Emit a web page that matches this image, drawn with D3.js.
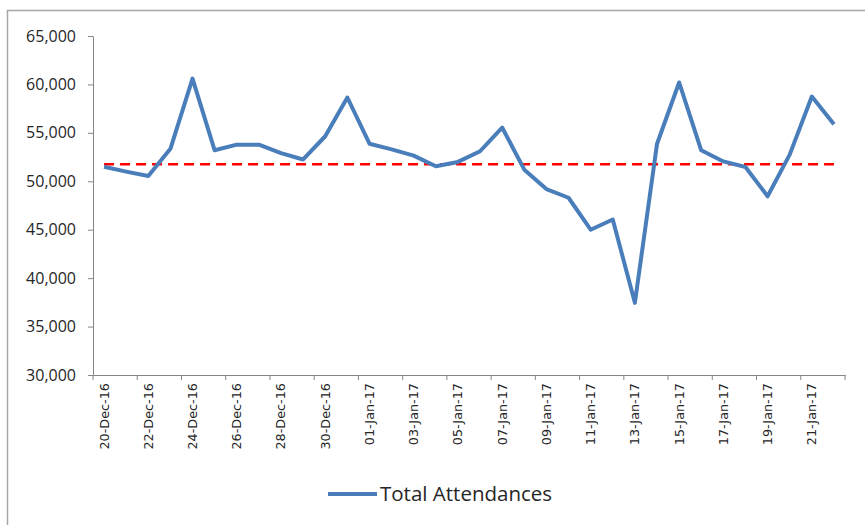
<!DOCTYPE html>
<html lang="en">
<head>
    <meta charset="UTF-8">
    <title>Total Attendances</title>
    <script src="https://d3js.org/d3.v7.min.js"></script>
    <style>
        body { margin: 0; background: #fff; }
        .axis path, .axis line { stroke: #868686; }
        .ylab text { font-family: "Open Sans", sans-serif; font-size: 16px; fill: #262626; }
        .xlab text { font-family: "DejaVu Sans", sans-serif; font-size: 12.8px; fill: #262626; }
    </style>
</head>
<body>
    <svg class="chart"></svg>
    <script>
        // categories (one per day)
        var dates = ["20-Dec-16","21-Dec-16","22-Dec-16","23-Dec-16","24-Dec-16","25-Dec-16","26-Dec-16",
                     "27-Dec-16","28-Dec-16","29-Dec-16","30-Dec-16","31-Dec-16","01-Jan-17","02-Jan-17",
                     "03-Jan-17","04-Jan-17","05-Jan-17","06-Jan-17","07-Jan-17","08-Jan-17","09-Jan-17",
                     "10-Jan-17","11-Jan-17","12-Jan-17","13-Jan-17","14-Jan-17","15-Jan-17","16-Jan-17",
                     "17-Jan-17","18-Jan-17","19-Jan-17","20-Jan-17","21-Jan-17","22-Jan-17"];
        // total attendances per day
        var attendances = [51500, 51000, 50550, 53350, 60600, 53200, 53780, 53780, 52900, 52250,
                           54650, 58650, 53880, 53300, 52650, 51550, 52000, 53100, 55550, 51200,
                           49200, 48300, 45000, 46050, 37450, 53850, 60200, 53200, 52050, 51480,
                           48450, 52750, 58750, 55900];
        var averageLine = 51750;
        var yTicks = [30000, 35000, 40000, 45000, 50000, 55000, 60000, 65000];
        var seriesName = "Total Attendances";

        var width = 865, height = 525;
        var svg = d3.select('.chart').attr('width', width).attr('height', height);

        // outer chart frame (left + top only visible)
        svg.append('path')
           .attr('d', 'M7.5,525 V10.5 H865')
           .attr('fill', 'none')
           .attr('stroke', '#a6a6a6')
           .attr('stroke-width', 1.5);

        var x = d3.scaleBand().domain(dates).range([93, 845]).padding(0);
        var y = d3.scaleLinear().domain([30000, 65000]).range([375, 36]);

        // y axis
        svg.append('g')
           .attr('class', 'axis ylab')
           .attr('transform', 'translate(93,0)')
           .call(d3.axisLeft(y).tickValues(yTicks).tickFormat(d3.format(',')).tickSize(5).tickSizeOuter(0).tickPadding(12));

        // x axis labels every second day
        var labelDates = dates.filter(function(d, i) { return i % 2 === 0; });
        var xAxis = svg.append('g')
           .attr('class', 'axis xlab')
           .attr('transform', 'translate(0,375)')
           .call(d3.axisBottom(x).tickValues(labelDates).tickSize(0).tickSizeOuter(0));
        xAxis.selectAll('text')
           .attr('transform', 'rotate(-90)')
           .attr('x', -8)
           .attr('y', 0)
           .attr('dy', '0.35em')
           .style('text-anchor', 'end');

        // tick marks between categories
        var tickIdx = d3.range(0, dates.length + 1, 2);
        svg.append('g').selectAll('line')
           .data(tickIdx)
           .join('line')
           .attr('x1', function(i) { return i < dates.length ? x(dates[i]) : x.range()[1]; })
           .attr('x2', function(i) { return i < dates.length ? x(dates[i]) : x.range()[1]; })
           .attr('y1', 375)
           .attr('y2', 380)
           .attr('stroke', '#868686');

        var cx = function(d) { return x(d) + x.bandwidth() / 2; };

        // average (dashed red)
        svg.append('line')
           .attr('x1', cx(dates[0]))
           .attr('x2', cx(dates[dates.length - 1]))
           .attr('y1', y(averageLine))
           .attr('y2', y(averageLine))
           .attr('stroke', '#ff0000')
           .attr('stroke-width', 2.5)
           .attr('stroke-dasharray', '10,6');

        // series line
        var line = d3.line()
           .x(function(d, i) { return cx(dates[i]); })
           .y(function(d) { return y(d); });
        svg.append('path')
           .datum(attendances)
           .attr('d', line)
           .attr('fill', 'none')
           .attr('stroke', '#4a7ebb')
           .attr('stroke-width', 4)
           .attr('stroke-linejoin', 'round');

        // legend
        var legend = svg.append('g').attr('transform', 'translate(328,494)');
        legend.append('line')
           .attr('x1', 0).attr('x2', 49).attr('y1', 0).attr('y2', 0)
           .attr('stroke', '#4a7ebb').attr('stroke-width', 4);
        legend.append('text')
           .attr('x', 52).attr('y', 7)
           .attr('font-family', '"Open Sans", sans-serif')
           .attr('font-size', 20.5)
           .attr('fill', '#262626')
           .text(seriesName);
    </script>
</body>
</html>
